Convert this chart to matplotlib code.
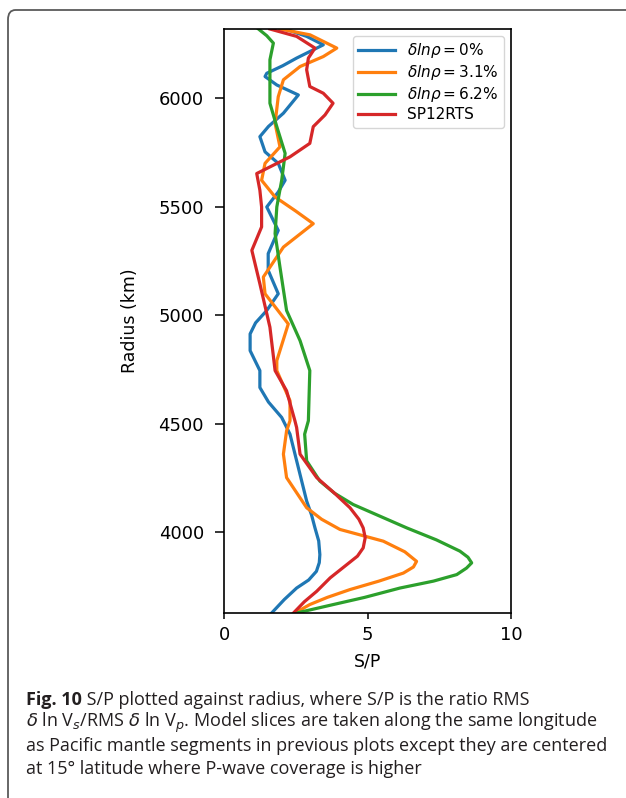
import matplotlib
matplotlib.use("Agg")
import matplotlib.pyplot as plt
from matplotlib.patches import FancyBboxPatch

# ---- data ----
blue_x = [2.13, 2.88, 3.46, 2.53, 2.05, 1.49, 1.43, 1.84, 2.59, 2.07, 1.55, 1.25, 1.43, 1.89, 2.13,
          1.89, 1.49, 1.89, 1.54, 1.54, 1.89, 1.49, 1.10, 0.91, 0.91, 1.25, 1.25, 1.55, 2.01,
          2.30, 2.59, 2.88, 3.05, 3.17, 3.30, 3.34, 3.32, 3.22, 2.95, 2.53, 2.10, 1.66]
blue_r = [6319, 6285, 6246, 6185, 6150, 6115, 6100, 6061, 6015, 5931, 5870, 5823, 5753, 5700, 5622,
          5568, 5499, 5391, 5284, 5207, 5099, 5022, 4965, 4914, 4837, 4745, 4667, 4600, 4529,
          4452, 4298, 4144, 4080, 4020, 3960, 3897, 3860, 3820, 3780, 3743, 3690, 3628]

orange_x = [1.95, 3.00, 3.93, 3.46, 2.65, 2.07, 1.89, 1.78, 1.95, 1.43, 1.31, 1.78, 2.50, 3.11,
            2.07, 1.37, 1.43, 2.24, 1.84, 1.84, 2.30, 2.30, 2.18, 2.07, 2.18, 2.88, 3.40, 4.04,
            5.55, 6.30, 6.71, 6.60, 6.25, 5.40, 4.39, 3.60, 2.99, 2.47]
orange_r = [6319, 6292, 6231, 6192, 6146, 6085, 6007, 5884, 5776, 5700, 5622, 5545, 5480, 5422,
            5314, 5176, 5099, 4960, 4791, 4745, 4606, 4514, 4467, 4360, 4252, 4113, 4060, 4013,
            3959, 3910, 3866, 3840, 3812, 3775, 3736, 3700, 3667, 3628]

green_x = [1.20, 1.49, 1.72, 1.60, 1.60, 1.84, 2.13, 2.01, 1.84, 1.78, 1.95, 2.18, 2.65, 2.99,
           2.94, 2.81, 2.88, 3.34, 3.85, 4.50, 6.37, 7.40, 8.22, 8.50, 8.63, 8.45, 8.11, 7.30,
           6.13, 4.90, 3.81, 2.53]
green_r = [6319, 6288, 6254, 6177, 5977, 5869, 5746, 5622, 5499, 5376, 5222, 5022, 4883, 4745,
           4514, 4452, 4329, 4236, 4180, 4128, 4020, 3965, 3913, 3885, 3859, 3835, 3805, 3775,
           3743, 3700, 3667, 3628]

red_x = [1.60, 2.53, 3.17, 2.94, 2.88, 2.99, 3.46, 3.80, 3.52, 3.11, 2.99, 2.30, 1.14, 1.25,
         1.31, 1.31, 0.97, 1.25, 1.60, 1.78, 2.18, 2.47, 2.53, 2.65, 3.23, 3.85, 4.39, 4.70,
         4.85, 4.92, 4.85, 4.65, 4.28, 3.70, 3.23, 2.80, 2.42]
red_r = [6319, 6285, 6231, 6185, 6131, 6054, 6023, 5977, 5923, 5869, 5792, 5730, 5653, 5576,
         5499, 5407, 5299, 5145, 4945, 4745, 4652, 4514, 4483, 4360, 4252, 4180, 4113, 4060,
         4020, 3975, 3928, 3890, 3851, 3790, 3728, 3680, 3628]

labels = [r"$\delta ln\rho = 0\%$", r"$\delta ln\rho = 3.1\%$", r"$\delta ln\rho = 6.2\%$", "SP12RTS"]
colors = ["#1f77b4", "#ff7f0e", "#2ca02c", "#d62728"]
xticks = [0, 5, 10]
yticks = [4000, 4500, 5000, 5500, 6000]

caption_bold = "Fig. 10"
caption_lines = [
    " S/P plotted against radius, where S/P is the ratio RMS",
    r"$\delta$ ln V$_s$/RMS $\delta$ ln V$_p$. Model slices are taken along the same longitude",
    "as Pacific mantle segments in previous plots except they are centered",
    "at 15\u00b0 latitude where P-wave coverage is higher",
]

# ---- figure ----
plt.rcParams["font.family"] = ["DejaVu Sans"]
W, H = 626, 798
fig = plt.figure(figsize=(W / 100, H / 100), dpi=100)

# rounded frame
frame = FancyBboxPatch((8 / W, -0.1), 1.2, 1.1 - 10 / H,
                       boxstyle="round,pad=0,rounding_size=0.012",
                       transform=fig.transFigure, facecolor="none",
                       edgecolor="#5a5a5a", linewidth=1.3, zorder=0)
fig.patches.append(frame)

ax = fig.add_axes([224 / W, 1 - 613 / H, (511 - 224) / W, (613 - 29) / H])
series = [(blue_x, blue_r), (orange_x, orange_r), (green_x, green_r), (red_x, red_r)]
for (xs, rs), c, lab in zip(series, colors, labels):
    ax.plot(xs, rs, color=c, lw=2.3, label=lab, solid_joinstyle="round")

ax.set_xlim(0, 10)
ax.set_ylim(3628, 6319)
ax.set_xticks(xticks)
ax.set_yticks(yticks)
ax.tick_params(axis="x", labelsize=13, length=4.5, width=1.1, pad=5)
ax.tick_params(axis="y", labelsize=13, length=6.5, width=1.1, pad=8)
for s in ax.spines.values():
    s.set_linewidth(1.2)
ax.set_xlabel("S/P", fontsize=12.5, labelpad=6)
ax.set_ylabel("Radius (km)", fontsize=12.5, labelpad=14)
leg = ax.legend(loc="upper right", fontsize=11, handlelength=2.4,
                borderaxespad=0.45, labelspacing=0.2, borderpad=0.35,
                handletextpad=0.8)

# caption
plt.rcParams["mathtext.fontset"] = "dejavusans"
cap_font = "Open Sans"
cap_size = 13
x0 = 26 / W
ys = [700, 723, 746, 769]
fig.canvas.draw()
renderer = fig.canvas.get_renderer()
tb = fig.text(x0, 1 - ys[0] / H, caption_bold, fontsize=cap_size, fontweight="bold",
              family=cap_font, va="center", ha="left", color="#231f20")
bb = tb.get_window_extent(renderer)
fig.text(bb.x1 / W, 1 - ys[0] / H, caption_lines[0], fontsize=cap_size, family=cap_font,
         va="center", ha="left", color="#231f20")
for line, y in zip(caption_lines[1:], ys[1:]):
    fig.text(x0, 1 - y / H, line, fontsize=cap_size, family=cap_font, va="center",
             ha="left", color="#231f20")

fig.savefig("out.png", dpi=100)
